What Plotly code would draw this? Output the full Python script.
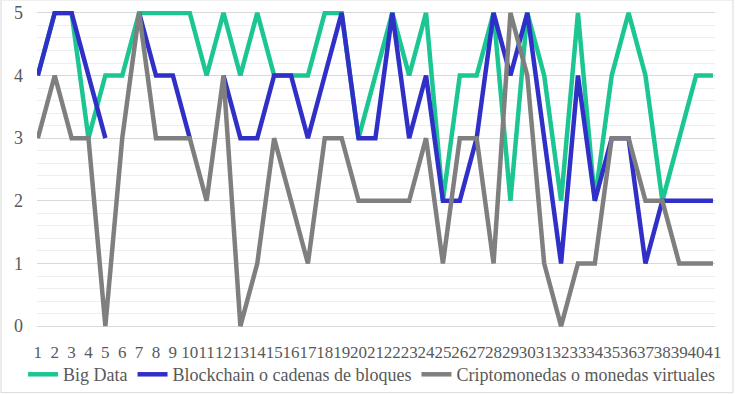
import plotly.graph_objects as go

categories = list(range(1, 42))
tick_labels = [str(c) for c in categories]

big_data = [4, 5, 5, 3, 4, 4, 5, 5, 5, 5,
            4, 5, 4, 5, 4, 4, 4, 5, 5, 3,
            4, 5, 4, 5, 2, 4, 4, 5, 2, 5,
            4, 2, 5, 2, 4, 5, 4, 2, 3, 4, 4]

blockchain = [4, 5, 5, 4, 3, None, 5, 4, 4, 3,
              None, 4, 3, 3, 4, 4, 3, 4, 5, 3,
              3, 5, 3, 4, 2, 2, 3, 5, 4, 5,
              3, 1, 4, 2, 3, 3, 1, 2, 2, 2, 2]

cripto = [3, 4, 3, 3, 0, 3, 5, 3, 3, 3,
          2, 4, 0, 1, 3, 2, 1, 3, 3, 2,
          2, 2, 2, 3, 1, 3, 3, 1, 5, 4,
          1, 0, 1, 1, 3, 3, 2, 2, 1, 1, 1]

series_names = ["Big Data", "Blockchain o cadenas de bloques",
                "Criptomonedas o monedas virtuales"]
series_colors = ["#1CC692", "#3030C8", "#7F7F7F"]

font_family = "Liberation Serif"
text_color = "#595959"

fig = go.Figure()
for name, vals, col in zip(series_names, [big_data, blockchain, cripto], series_colors):
    fig.add_trace(go.Scatter(
        x=categories, y=vals, name=name, mode="lines",
        line=dict(color=col, width=4.5, shape="linear"),
        connectgaps=False,
    ))

fig.update_layout(
    width=737, height=394,
    margin=dict(l=37, r=22, t=11, b=66, autoexpand=False),
    paper_bgcolor="white", plot_bgcolor="white",
    font=dict(family=font_family, color=text_color, size=17),
    showlegend=True,
    legend=dict(orientation="h", x=-0.0206, xanchor="left",
                y=-0.147, yanchor="middle", bgcolor="rgba(0,0,0,0)",
                font=dict(family=font_family, size=18, color=text_color),
                itemwidth=30, tracegroupgap=0),
    xaxis=dict(
        range=[0.95, 41.12],
        tickmode="array", tickvals=categories, ticktext=tick_labels,
        tickangle=0, showgrid=False, zeroline=False, showline=False,
        ticks="", ticklabelstandoff=12,
        tickfont=dict(family=font_family, size=17, color=text_color),
    ),
    yaxis=dict(
        range=[-0.03, 5.03],
        tickmode="array", tickvals=[0, 1, 2, 3, 4, 5],
        showgrid=True, gridcolor="#D9D9D9", gridwidth=1,
        zeroline=False, showline=False, ticks="",
        ticklabelstandoff=13,
        tickfont=dict(family=font_family, size=18, color=text_color),
        minor=dict(dtick=0.2, tick0=0, showgrid=True, gridcolor="#EEEEEE", gridwidth=1),
    ),
)

fig.add_shape(type="rect", xref="paper", yref="paper",
              x0=-0.053, x1=1.0265, y0=-0.204, y1=1.035,
              line=dict(color="#D9D9D9", width=1), fillcolor="rgba(0,0,0,0)",
              layer="above")

fig.write_html("out.html", config={"displayModeBar": False},
               post_script="document.body.style.margin='0px';document.body.style.overflow='hidden';")
